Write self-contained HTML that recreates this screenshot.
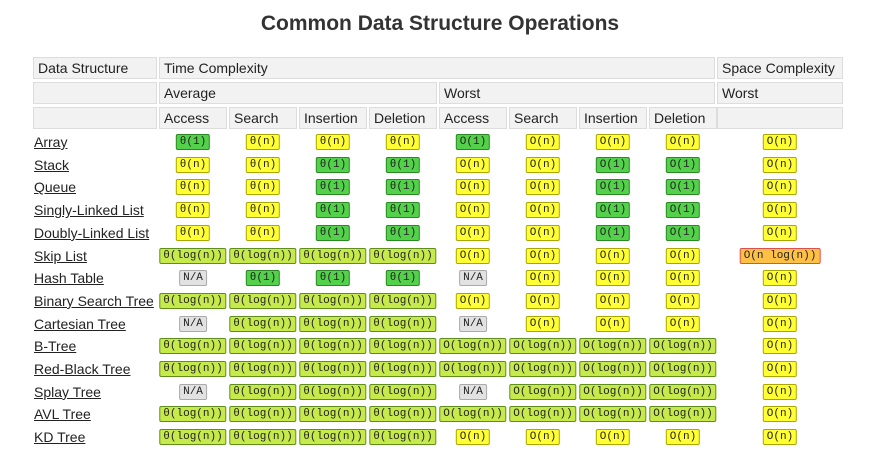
<!DOCTYPE html>
<html><head><meta charset="utf-8"><style>
body{margin:0;width:880px;height:472px;background:#fff;font-family:"Liberation Sans",sans-serif;position:relative;overflow:hidden}
.title{position:absolute;left:0;width:880px;top:12px;text-align:center;font-size:21px;font-weight:bold;color:#333}
.hd{position:absolute;height:22px;background:#f2f2f2;border:1px solid #ddd;box-sizing:border-box;font-size:14px;color:#222;padding-left:4px;line-height:21px}
.nm{position:absolute;left:34px;font-size:14px;color:#222;text-decoration:underline;line-height:20px}
.b{position:absolute;height:16px;box-sizing:border-box;font-family:"Liberation Mono",monospace;font-size:11px;line-height:14px;text-align:center;border:1px solid;border-radius:2px;color:#222;padding:0 3px;transform:translateX(-50%)}
.g{background:#53d14a;border-color:#2a8a22}.y{background:#ffff33;border-color:#a8a800}.l{background:#c6ea4c;border-color:#5f8f1a}.o{background:#ffc145;border-color:#e0504a}.n{background:#e2e2e2;border-color:#aaa}
</style></head><body>
<div class="title">Common Data Structure Operations</div>
<div id="t"></div>
<script>
const names=["Array","Stack","Queue","Singly-Linked List","Doubly-Linked List","Skip List","Hash Table","Binary Search Tree","Cartesian Tree","B-Tree","Red-Black Tree","Splay Tree","AVL Tree","KD Tree"];
const A="θ(1)",N="θ(n)",L="θ(log(n))",X="N/A",o1="O(1)",on="O(n)",ol="O(log(n))",onl="O(n log(n))";
const rows=[
[A,N,N,N,o1,on,on,on,on],
[N,N,A,A,on,on,o1,o1,on],
[N,N,A,A,on,on,o1,o1,on],
[N,N,A,A,on,on,o1,o1,on],
[N,N,A,A,on,on,o1,o1,on],
[L,L,L,L,on,on,on,on,onl],
[X,A,A,A,X,on,on,on,on],
[L,L,L,L,on,on,on,on,on],
[X,L,L,L,X,on,on,on,on],
[L,L,L,L,ol,ol,ol,ol,on],
[L,L,L,L,ol,ol,ol,ol,on],
[X,L,L,L,X,ol,ol,ol,on],
[L,L,L,L,ol,ol,ol,ol,on],
[L,L,L,L,on,on,on,on,on]];
const colL=[159,229,299,369,439,509,579,649,717];
const colW=[68,68,68,68,68,68,68,68,126];
const t=document.getElementById('t');
function hd(x,y,w,txt,name){const d=document.createElement('div');d.className='hd';d.style.left=x+'px';d.style.top=y+'px';d.style.width=w+'px';d.textContent=txt;


t.appendChild(d);}
hd(33,57,124,"Data Structure","header-data-structure");
hd(159,57,556,"Time Complexity","header-time-complexity");
hd(717,57,126,"Space Complexity","header-space-complexity");
hd(33,82,124,"","header-blank");
hd(159,82,278,"Average","header-average");
hd(439,82,276,"Worst","header-worst");
hd(717,82,126,"Worst","header-space-worst");
hd(33,107,124,"","header-blank");
const ops=["Access","Search","Insertion","Deletion","Access","Search","Insertion","Deletion",""];
ops.forEach((o,i)=>hd(colL[i],107,colW[i],o,"header-"+(o?o.toLowerCase():"space")));
function cls(v){if(v===X)return'n';if(v===onl)return'o';if(v===A||v===o1)return'g';if(v===L||v===ol)return'l';return'y';}
names.forEach((nm,r)=>{const cy=142+r*22.7;
const a=document.createElement('div');a.className='nm';a.style.top=(cy-10)+'px';a.textContent=nm;


t.appendChild(a);
rows[r].forEach((v,c)=>{const b=document.createElement('div');b.className='b '+cls(v);b.style.left=(colL[c]+colW[c]/2)+'px';b.style.top=(cy-8)+'px';b.textContent=v;


t.appendChild(b);});});
</script>
</body></html>
